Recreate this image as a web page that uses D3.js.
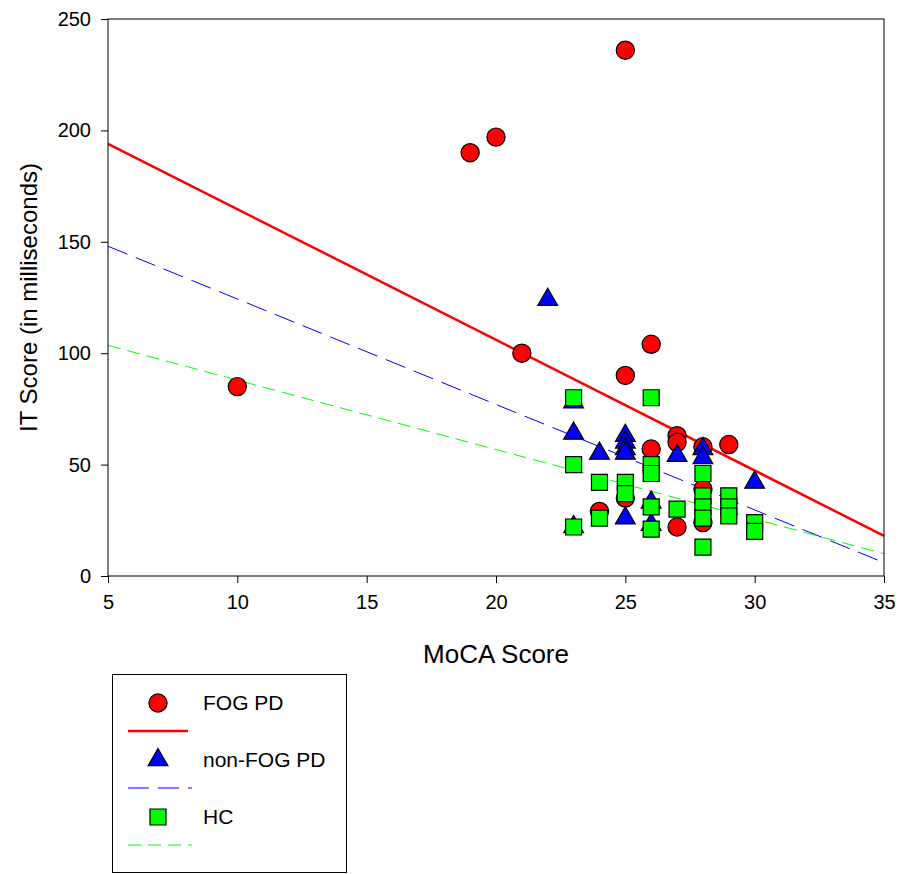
<!DOCTYPE html>
<meta charset="utf-8">
<head>
	<script src="https://d3js.org/d3.v7.min.js"></script>
	<style>
		body { margin: 0; background: #fff; }
		text { font-family: "Liberation Sans", Arial, sans-serif; fill: #000; }
	</style>
</head>
<body>
<div id="chart"></div>
<script>
	// data: [MoCA, IT score]
	var fogPD = [[10,85],[19,190],[20,197],[21,100],[25,236],[25,90],[26,104],[27,63],[27,60],[29,59],
		[26,57],[28,58],[25,35],[24,29],[28,39],[28,24],[27,22]];
	var nonFogPD = [[22,124],[23,78],[23,64],[24,55],[25,63],[25,60],[25,57],[25,55],[25,26],[26,33],
		[26,23],[27,54],[28,57],[28,53],[30,42],[23,22]];
	var hc = [[23,80],[26,80],[23,50],[24,42],[25,42],[25,37],[26,50],[26,46],[24,26],[23,22],[26,31],
		[26,21],[27,30],[28,46],[28,36],[28,31],[28,26],[28,13],[29,36],[29,31],[29,27],[30,24],[30,20]];
	// regression lines: value at x=5 and x=35
	var fogFit = [194, 18];
	var nonFogFit = [148, 6];
	var hcFit = [103.5, 10];
	var xTicks = [5, 10, 15, 20, 25, 30, 35];
	var yTicks = [0, 50, 100, 150, 200, 250];

	(function () {
		var W = 902, H = 874;
		var m = { left: 108, right: 884, top: 19, bottom: 576 };

		var svg = d3.select("#chart").append("svg")
			.attr("width", W).attr("height", H);

		var x = d3.scaleLinear().domain([5, 35]).range([m.left, m.right]);
		var y = d3.scaleLinear().domain([0, 250]).range([m.bottom, m.top]);

		var series = [
			{ name: "FOG PD", data: fogPD, fit: fogFit, color: "#ff0000", shape: d3.symbolCircle, size: 260, width: 2.5, dash: null },
			{ name: "non-FOG PD", data: nonFogPD, fit: nonFogFit, color: "#0000ff", shape: d3.symbolTriangle, size: 170, width: 1, dash: "21,9" },
			{ name: "HC", data: hc, fit: hcFit, color: "#00ff00", shape: d3.symbolSquare, size: 256, width: 1, dash: "13,7" }
		];

		// fit lines under the markers
		series.forEach(function (s) {
			svg.append("line")
				.attr("x1", x(5)).attr("y1", y(s.fit[0]))
				.attr("x2", x(35)).attr("y2", y(s.fit[1]))
				.attr("stroke", s.color).attr("stroke-width", s.width)
				.attr("stroke-dasharray", s.dash);
		});

		series.forEach(function (s) {
			svg.append("g").selectAll("path")
				.data(s.data)
				.enter().append("path")
				.attr("d", d3.symbol().type(s.shape).size(s.size))
				.attr("transform", function (d) { return "translate(" + x(d[0]) + "," + y(d[1]) + ")"; })
				.attr("fill", s.color).attr("stroke", "#000").attr("stroke-width", 1.2);
		});

		// frame
		svg.append("rect")
			.attr("x", m.left).attr("y", m.top)
			.attr("width", m.right - m.left).attr("height", m.bottom - m.top)
			.attr("fill", "none").attr("stroke", "#000").attr("stroke-width", 1);

		var xAxis = svg.append("g")
			.attr("transform", "translate(0," + m.bottom + ")")
			.call(d3.axisBottom(x).tickValues(xTicks).tickSize(7).tickPadding(12));
		var yAxis = svg.append("g")
			.attr("transform", "translate(" + m.left + ",0)")
			.call(d3.axisLeft(y).tickValues(yTicks).tickSize(7).tickPadding(10));
		[xAxis, yAxis].forEach(function (g) {
			g.select(".domain").remove();
			g.selectAll("text").style("font-size", "20px").style("font-family", "Liberation Sans, Arial");
			g.selectAll("line").attr("stroke", "#000");
		});

		svg.append("text")
			.attr("x", (m.left + m.right) / 2).attr("y", 663)
			.attr("text-anchor", "middle").style("font-size", "26px")
			.text("MoCA Score");
		svg.append("text")
			.attr("transform", "translate(37," + (m.top + m.bottom) / 2 + ") rotate(-90)")
			.attr("text-anchor", "middle").style("font-size", "24px")
			.text("IT Score (in milliseconds)");

		// legend
		var lg = svg.append("g");
		lg.append("rect")
			.attr("x", 112.5).attr("y", 674.5).attr("width", 234).attr("height", 198)
			.attr("fill", "none").attr("stroke", "#000").attr("stroke-width", 1);
		series.forEach(function (s, i) {
			var cy = 703 + i * 57;
			lg.append("path")
				.attr("d", d3.symbol().type(s.shape).size(s.size))
				.attr("transform", "translate(158," + cy + ")")
				.attr("fill", s.color).attr("stroke", "#000").attr("stroke-width", 1.2);
			lg.append("text")
				.attr("x", 203).attr("y", cy + 7)
				.style("font-size", "21px")
				.text(s.name);
			lg.append("line")
				.attr("x1", 128).attr("x2", s.dash ? 192 : 188)
				.attr("y1", cy + 28).attr("y2", cy + 28)
				.attr("stroke", s.color).attr("stroke-width", s.width)
				.attr("stroke-dasharray", s.dash);
		});
	})();
</script>
</body>
